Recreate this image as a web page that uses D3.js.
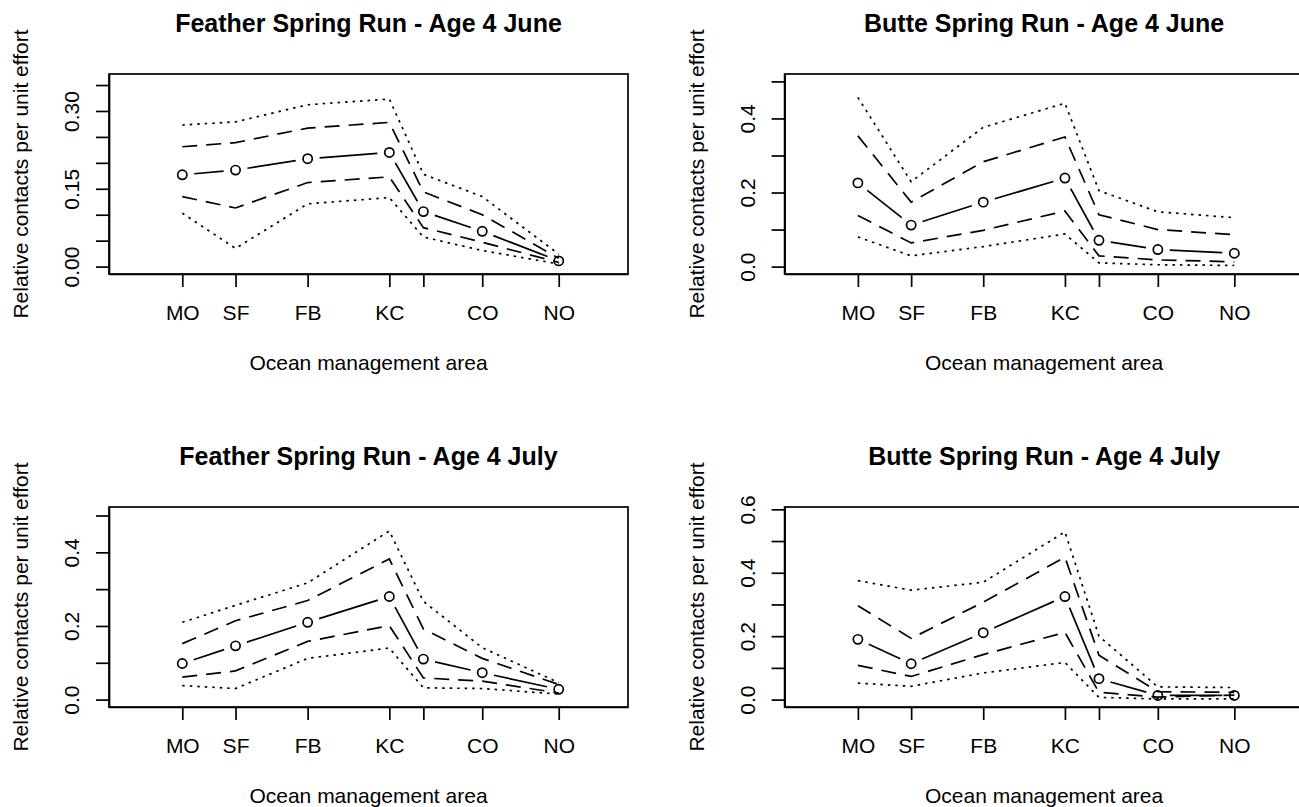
<!DOCTYPE html>
<html>
<head>
<meta charset="utf-8">
<script src="https://cdn.jsdelivr.net/npm/d3@7"></script>
<style>
  body { margin: 0; background: #fff; }
  svg { display: block; }
  text { font-family: "Liberation Sans", Arial, Helvetica, sans-serif; fill: #000; }
</style>
</head>
<body>
<svg id="chart" width="1299" height="807"></svg>
<script>
// ---------------- DATA ----------------
const areaLabels = ["MO", "SF", "FB", "KC", "", "CO", "NO"];
const areaLat    = [36.35, 37.68, 39.48, 41.52, 42.37, 43.84, 45.75];
const xLim = [35, 47];

const titles = [
  "Feather Spring Run - Age 4 June",
  "Butte Spring Run - Age 4 June",
  "Feather Spring Run - Age 4 July",
  "Butte Spring Run - Age 4 July"
];
const xTitle = "Ocean management area";
const yTitle = "Relative contacts per unit effort";

// Feather Spring Run - June
const featherJuneMean      = [0.177, 0.186, 0.208, 0.220, 0.106, 0.068, 0.011];
const featherJuneUpperDash = [0.231, 0.239, 0.267, 0.278, 0.144, 0.100, 0.016];
const featherJuneUpperDot  = [0.273, 0.279, 0.312, 0.323, 0.178, 0.135, 0.024];
const featherJuneLowerDash = [0.135, 0.113, 0.162, 0.173, 0.075, 0.047, 0.008];
const featherJuneLowerDot  = [0.103, 0.035, 0.121, 0.133, 0.057, 0.031, 0.005];

// Butte Spring Run - June
const butteJuneMean      = [0.226, 0.112, 0.174, 0.239, 0.071, 0.046, 0.036];
const butteJuneUpperDash = [0.353, 0.174, 0.283, 0.350, 0.140, 0.100, 0.086];
const butteJuneUpperDot  = [0.457, 0.229, 0.376, 0.441, 0.205, 0.148, 0.132];
const butteJuneLowerDash = [0.138, 0.064, 0.098, 0.150, 0.029, 0.018, 0.013];
const butteJuneLowerDot  = [0.080, 0.029, 0.054, 0.088, 0.010, 0.005, 0.003];

// Feather Spring Run - July
const featherJulyMean      = [0.098, 0.146, 0.210, 0.280, 0.110, 0.073, 0.028];
const featherJulyUpperDash = [0.152, 0.214, 0.269, 0.382, 0.192, 0.112, 0.041];
const featherJulyUpperDot  = [0.210, 0.256, 0.317, 0.458, 0.267, 0.141, 0.046];
const featherJulyLowerDash = [0.061, 0.078, 0.158, 0.201, 0.059, 0.050, 0.018];
const featherJulyLowerDot  = [0.038, 0.030, 0.112, 0.140, 0.032, 0.030, 0.015];

// Butte Spring Run - July
const butteJulyMean      = [0.190, 0.113, 0.211, 0.325, 0.066, 0.013, 0.013];
const butteJulyUpperDash = [0.296, 0.193, 0.307, 0.449, 0.140, 0.025, 0.023];
const butteJulyUpperDot  = [0.375, 0.345, 0.370, 0.529, 0.200, 0.040, 0.038];
const butteJulyLowerDash = [0.108, 0.073, 0.142, 0.212, 0.023, 0.008, 0.014];
const butteJulyLowerDot  = [0.052, 0.042, 0.084, 0.117, 0.007, 0.002, 0.002];

// y axis limits and ticks
const yLimTop = [0.357, 0.50, 0.503, 0.584];
const yTicksA = [0, 0.05, 0.10, 0.15, 0.20, 0.25, 0.30, 0.35];
const yTickLabelsA = ["0.00", "", "", "0.15", "", "", "0.30", ""];
const yTicksB = [0, 0.1, 0.2, 0.3, 0.4, 0.5];
const yTickLabelsB = ["0.0", "", "0.2", "", "0.4", ""];
const yTicksC = [0, 0.1, 0.2, 0.3, 0.4, 0.5, 0.6];
const yTickLabelsC = ["0.0", "", "0.2", "", "0.4", "", "0.6"];

// ---------------- LAYOUT ----------------
const boxW = 519, boxH = 200;
const colLeft = [109, 784.6];
const rowTop = [74, 507];
const lw = 1.7;

const panels = [
  { title: titles[0], col: 0, row: 0, yTop: yLimTop[0], ticks: yTicksA, tickLabels: yTickLabelsA,
    mean: featherJuneMean, uDash: featherJuneUpperDash, uDot: featherJuneUpperDot, lDash: featherJuneLowerDash, lDot: featherJuneLowerDot },
  { title: titles[1], col: 1, row: 0, yTop: yLimTop[1], ticks: yTicksB, tickLabels: yTickLabelsB,
    mean: butteJuneMean, uDash: butteJuneUpperDash, uDot: butteJuneUpperDot, lDash: butteJuneLowerDash, lDot: butteJuneLowerDot },
  { title: titles[2], col: 0, row: 1, yTop: yLimTop[2], ticks: yTicksB, tickLabels: yTickLabelsB,
    mean: featherJulyMean, uDash: featherJulyUpperDash, uDot: featherJulyUpperDot, lDash: featherJulyLowerDash, lDot: featherJulyLowerDot },
  { title: titles[3], col: 1, row: 1, yTop: yLimTop[3], ticks: yTicksC, tickLabels: yTickLabelsC,
    mean: butteJulyMean, uDash: butteJulyUpperDash, uDot: butteJulyUpperDot, lDash: butteJulyLowerDash, lDot: butteJulyLowerDot }
];

const svg = d3.select("#chart");

function expand(lo, hi) { const r = hi - lo; return [lo - 0.04 * r, hi + 0.04 * r]; }

panels.forEach(p => {
  const left = colLeft[p.col], top = rowTop[p.row];
  const g = svg.append("g").attr("transform", `translate(${left},${top})`);

  const x = d3.scaleLinear().domain(expand(xLim[0], xLim[1])).range([0, boxW]);
  const y = d3.scaleLinear().domain(expand(0, p.yTop)).range([boxH, 0]);

  // title
  g.append("text")
    .attr("x", boxW / 2).attr("y", -42.3)
    .attr("text-anchor", "middle")
    .attr("font-size", 25).attr("font-weight", "bold")
    .text(p.title);

  // x axis
  const xAxis = g.append("g")
    .attr("transform", `translate(0,${boxH})`)
    .call(d3.axisBottom(x).tickValues(areaLat).tickFormat((d, i) => areaLabels[i]).tickSize(13).tickSizeOuter(0));
  xAxis.attr("font-size", 21).attr("font-family", null);
  xAxis.select(".domain").attr("stroke-width", lw);
  xAxis.selectAll(".tick line").attr("stroke-width", lw);
  xAxis.selectAll(".tick text").attr("y", 46).attr("dy", null);

  // y axis
  const yAxis = g.append("g")
    .call(d3.axisLeft(y).tickValues(p.ticks).tickFormat((d, i) => p.tickLabels[i]).tickSize(13).tickSizeOuter(0));
  yAxis.attr("font-size", 21).attr("font-family", null);
  yAxis.select(".domain").attr("stroke-width", lw);
  yAxis.selectAll(".tick line").attr("stroke-width", lw);
  yAxis.selectAll(".tick text")
    .attr("x", null).attr("dy", null)
    .attr("text-anchor", "middle")
    .attr("transform", "translate(-30,0) rotate(-90)");

  // box
  g.append("rect")
    .attr("x", 0).attr("y", 0).attr("width", boxW).attr("height", boxH)
    .attr("fill", "none").attr("stroke", "#000").attr("stroke-width", lw);

  // axis titles
  g.append("text")
    .attr("x", boxW / 2).attr("y", boxH + 95.5)
    .attr("text-anchor", "middle").attr("font-size", 21)
    .text(xTitle);
  g.append("text")
    .attr("transform", `translate(-81,${boxH / 2}) rotate(-90)`)
    .attr("text-anchor", "middle").attr("font-size", 21)
    .text(yTitle);

  const line = d3.line().x((d, i) => x(areaLat[i])).y(d => y(d));

  const series = [
    { data: p.uDot, dash: "2.5,5" },
    { data: p.lDot, dash: "2.5,5" },
    { data: p.uDash, dash: "15,9" },
    { data: p.lDash, dash: "15,9" }
  ];
  series.forEach(s => {
    g.append("path")
      .attr("d", line(s.data))
      .attr("fill", "none").attr("stroke", "#000")
      .attr("stroke-width", lw).attr("stroke-dasharray", s.dash);
  });

  // mean: type "b" (segments with gaps around points)
  const gap = 12;
  const pts = p.mean.map((v, i) => [x(areaLat[i]), y(v)]);
  for (let i = 0; i < pts.length - 1; i++) {
    const [x0, y0] = pts[i], [x1, y1] = pts[i + 1];
    const dx = x1 - x0, dy = y1 - y0, len = Math.hypot(dx, dy);
    if (len <= 2 * gap) continue;
    const ux = dx / len, uy = dy / len;
    g.append("line")
      .attr("x1", x0 + ux * gap).attr("y1", y0 + uy * gap)
      .attr("x2", x1 - ux * gap).attr("y2", y1 - uy * gap)
      .attr("stroke", "#000").attr("stroke-width", lw);
  }
  g.selectAll("circle.pt").data(p.mean).enter().append("circle")
    .attr("class", "pt")
    .attr("cx", (d, i) => x(areaLat[i])).attr("cy", d => y(d))
    .attr("r", 4.6)
    .attr("fill", "none").attr("stroke", "#000").attr("stroke-width", lw);
});
</script>
</body>
</html>
